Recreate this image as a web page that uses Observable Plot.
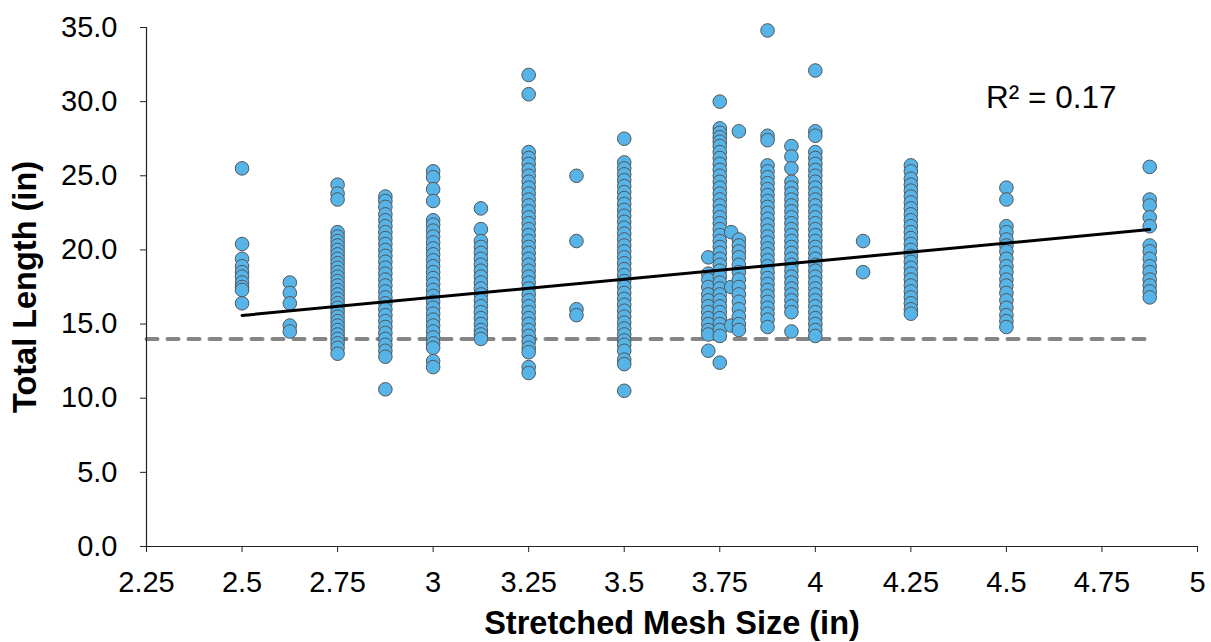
<!DOCTYPE html>
<html>
<head>
<meta charset="utf-8">
<script src="https://cdn.jsdelivr.net/npm/d3@7"></script>
<script src="https://cdn.jsdelivr.net/npm/@observablehq/plot@0.6"></script>
<style>
  html, body { margin: 0; padding: 0; background: #fff; }
</style>
</head>
<body>
<div id="chart"></div>
<script>
// Stretched mesh sizes (in) — one column of fish per mesh size
const meshSizes = [2.5, 2.625, 2.75, 2.875, 3, 3.125, 3.25, 3.375, 3.5, 3.72, 3.75, 3.78, 3.8, 3.875, 3.9375, 4, 4.125, 4.25, 4.5, 4.875];

// Total lengths (in)
const len2500 = [25.5, 20.4, 19.4, 18.9, 18.5, 18.2, 17.8, 17.5, 17.3, 16.4];
const len2625 = [17.8, 17.1, 16.4, 14.9, 14.5];
const len2750 = [24.4, 23.8, 23.4, 21.2, 20.9, 20.6, 20.3, 20.0, 19.7, 19.4, 19.1, 18.8, 18.5, 18.2, 17.9, 17.6, 17.3, 17.0, 16.7, 16.4, 16.1, 15.8, 15.5, 15.2, 14.9, 14.6, 14.3, 14.0, 13.7, 13.4, 13.0];
const len2875 = [23.6, 23.3, 22.9, 22.4, 22.0, 21.6, 21.2, 20.8, 20.4, 20.0, 19.6, 19.2, 18.8, 18.4, 18.0, 17.6, 17.2, 16.8, 16.4, 16.0, 15.6, 15.2, 14.8, 14.4, 14.0, 13.6, 13.2, 12.8, 10.6];
const len3000 = [25.3, 24.9, 24.1, 23.3, 22.0, 21.7, 21.3, 20.9, 20.5, 20.1, 19.7, 19.3, 18.9, 18.5, 18.1, 17.7, 17.3, 16.9, 16.5, 16.1, 15.7, 15.3, 14.9, 14.5, 14.1, 13.7, 13.4, 12.5, 12.1];
const len3125 = [22.8, 21.4, 20.6, 20.2, 19.8, 19.4, 19.0, 18.6, 18.2, 17.8, 17.4, 17.0, 16.6, 16.2, 15.8, 15.4, 15.0, 14.6, 14.3, 14.0];
const len3250 = [31.8, 30.5, 26.6, 26.2, 25.8, 25.4, 25.0, 24.6, 24.2, 23.8, 23.4, 23.0, 22.6, 22.2, 21.8, 21.4, 21.0, 20.6, 20.2, 19.8, 19.4, 19.0, 18.6, 18.2, 17.8, 17.4, 17.0, 16.6, 16.2, 15.8, 15.4, 15.0, 14.6, 14.2, 13.8, 13.4, 13.1, 12.1, 11.7];
const len3375 = [25.0, 20.6, 16.0, 15.6];
const len3500 = [27.5, 25.9, 25.5, 25.1, 24.7, 24.3, 23.9, 23.5, 23.1, 22.7, 22.3, 21.9, 21.5, 21.1, 20.7, 20.3, 19.9, 19.5, 19.1, 18.7, 18.3, 17.9, 17.5, 17.1, 16.7, 16.3, 15.9, 15.5, 15.1, 14.7, 14.3, 13.9, 13.6, 13.2, 12.6, 12.3, 10.5];
const len3720 = [19.5, 18.4, 18.0, 17.5, 17.0, 16.6, 16.2, 15.8, 15.4, 15.0, 14.6, 14.3, 13.2];
const len3750 = [30.0, 28.2, 27.9, 27.6, 27.3, 27.0, 26.6, 26.2, 25.8, 25.4, 25.0, 24.6, 24.2, 23.8, 23.4, 23.0, 22.6, 22.2, 21.8, 21.4, 21.0, 20.6, 20.2, 19.8, 19.4, 19.0, 18.6, 18.2, 17.8, 17.4, 17.0, 16.6, 16.2, 15.8, 15.4, 15.0, 14.6, 14.2, 12.4];
const len3780 = [21.2, 17.5, 14.9];
const len3800 = [28.0, 20.7, 20.3, 19.9, 19.5, 19.0, 18.5, 18.0, 17.5, 17.0, 16.5, 16.0, 15.5, 15.0, 14.6];
const len3875 = [34.8, 27.7, 27.4, 25.7, 25.3, 24.9, 24.5, 24.1, 23.7, 23.3, 22.9, 22.5, 22.1, 21.7, 21.3, 20.9, 20.5, 20.1, 19.7, 19.3, 18.9, 18.5, 18.1, 17.7, 17.3, 16.9, 16.5, 16.1, 15.7, 15.3, 14.8];
const len3938 = [27.0, 26.3, 25.5, 24.6, 24.2, 23.8, 23.4, 23.0, 22.6, 22.2, 21.8, 21.4, 21.0, 20.6, 20.2, 19.8, 19.4, 19.0, 18.6, 18.2, 17.8, 17.4, 17.0, 16.6, 16.2, 15.8, 14.5];
const len4000 = [32.1, 28.0, 27.7, 26.6, 26.2, 25.8, 25.4, 25.0, 24.6, 24.2, 23.8, 23.4, 23.0, 22.6, 22.2, 21.8, 21.4, 21.0, 20.6, 20.2, 19.8, 19.4, 19.0, 18.6, 18.2, 17.8, 17.4, 17.0, 16.6, 16.2, 15.8, 15.4, 15.0, 14.6, 14.2];
const len4125 = [20.6, 18.5];
const len4250 = [25.7, 25.3, 24.8, 24.4, 24.0, 23.6, 23.2, 22.8, 22.4, 22.0, 21.6, 21.2, 20.8, 20.4, 20.0, 19.6, 19.2, 18.8, 18.4, 18.0, 17.6, 17.2, 16.8, 16.4, 16.0, 15.7];
const len4500 = [24.2, 23.4, 21.6, 21.2, 20.7, 20.3, 19.9, 19.4, 18.9, 18.5, 18.0, 17.6, 17.1, 16.6, 16.1, 15.6, 15.2, 14.8];
const len4875 = [25.6, 23.4, 23.0, 22.2, 21.6, 20.3, 19.9, 19.4, 18.9, 18.5, 18.0, 17.6, 17.2, 16.8];

const lengthColumns = [len2500, len2625, len2750, len2875, len3000, len3125, len3250, len3375, len3500, len3720, len3750, len3780, len3800, len3875, len3938, len4000, len4125, len4250, len4500, len4875];

// Linear trendline as printed on the chart (fit to the full dataset, many points overlap)
const trendMesh = [2.5, 4.875];
const trendLength = [15.58, 21.38];
const rSquared = "0.17";

// Minimum legal length reference line (in) and its x extent
const minLength = 14;
const minLengthExtent = [2.25, 4.875];

// Ticks and titles
const xTicks = [2.25, 2.5, 2.75, 3, 3.25, 3.5, 3.75, 4, 4.25, 4.5, 4.75, 5];
const yTicks = [0, 5, 10, 15, 20, 25, 30, 35];
const xTitle = "Stretched Mesh Size (in)";
const yTitle = "Total Length (in)";

const fish = meshSizes.flatMap((m, i) => lengthColumns[i].map(l => ({mesh: m, length: l})));
const minLine = minLengthExtent.map(x => ({mesh: x, length: minLength}));
const trend = trendMesh.map((x, i) => ({mesh: x, length: trendLength[i]}));

const chart = Plot.plot({
  width: 1211,
  height: 642,
  marginLeft: 146,
  marginRight: 14,
  marginTop: 27,
  marginBottom: 96,
  style: {fontFamily: "'Liberation Sans', Arial, sans-serif", fontSize: "29px", color: "#000", background: "#fff"},
  x: {domain: [2.25, 5]},
  y: {domain: [0, 35]},
  marks: [
    Plot.line(minLine, {x: "mesh", y: "length", stroke: "#858585", strokeWidth: 4, strokeDasharray: "11,10", strokeLinecap: "round"}),
    Plot.dot(fish, {x: "mesh", y: "length", r: 6.8, fill: "#56B4E9", stroke: "#555", strokeWidth: 1, fillOpacity: 1}),
    Plot.line(trend, {x: "mesh", y: "length", stroke: "#000", strokeWidth: 3}),
    Plot.ruleX([2.25], {stroke: "#222", strokeWidth: 1.2}),
    Plot.ruleY([0], {stroke: "#222", strokeWidth: 1.2}),
    Plot.axisX({ticks: xTicks, tickFormat: d => String(d), tickSize: 6, tickPadding: 19, label: null, stroke: "#222"}),
    Plot.axisY({ticks: yTicks, tickFormat: d3.format(".1f"), tickSize: 6, tickPadding: 23, label: null, stroke: "#222"}),
    Plot.text([xTitle], {text: d => d, frameAnchor: "bottom", dy: 77, textAnchor: "middle", lineAnchor: "middle", fontWeight: "bold", fontSize: 32.5}),
    Plot.text([yTitle], {text: d => d, frameAnchor: "left", dx: -121, rotate: -90, textAnchor: "middle", lineAnchor: "middle", fontWeight: "bold", fontSize: 32.5}),
    Plot.text([`R² = ${rSquared}`], {text: d => d, frameAnchor: "top-right", dx: -81, dy: 70, textAnchor: "end", lineAnchor: "middle", fontSize: 31.5})
  ]
});
document.getElementById("chart").appendChild(chart);
</script>
</body>
</html>
